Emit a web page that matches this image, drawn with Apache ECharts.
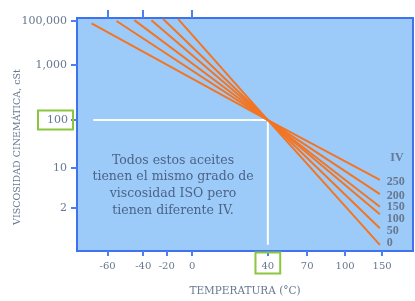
<!DOCTYPE html>
<html>
<head>
<meta charset="utf-8">
<script src="https://cdn.jsdelivr.net/npm/echarts@6/dist/echarts.min.js"></script>
<style>
html,body{margin:0;padding:0;background:#fff;}
#c{width:415px;height:301px;}
</style>
</head>
<body>
<div id="c"></div>
<script>
// ---- data ----
const xTickTemps = [-60, -40, -20, 0, 40, 70, 100, 150];
const xTickLabels = ['-60', '-40', '-20', '0', '40', '70', '100', '150'];
const xTopTickTemps = [-60, -40, 0];
const yTickVals = [2, 10, 100, 1000, 100000];
const yTickLabels = ['2', '10', '100', '1,000', '100,000'];
const ivLabels = ['250', '200', '150', '100', '50', '0'];
const startTemp = [-69, -55, -45, -33, -23, -11];
const startVisc = [76000, 98000, 107000, 107000, 120000, 120000];
const refTemp = 40;
const refVisc = 100;
const endTemp = [147, 147, 147, 147, 147, 147];
const endVisc = [6.2, 3.5, 2.1, 1.55, 0.88, 0.45];
const guideStartTemp = -68;
const guideEndVisc = 0.45;
const noteLines = ['Todos estos aceites', 'tienen el mismo grado de', 'viscosidad ISO pero', 'tienen diferente IV.'];

// ---- layout of the hand-drawn (non-uniform) axes, in percent of plot ----
const xTickPos = [9.1, 19.7, 26.7, 34.3, 56.8, 68.5, 79.8, 90.8];
const yTickPos = [18.5, 35.6, 56.2, 79.8, 98.8];
const labelOffsets = [2, 1.5, 0, 5, 3, -2];

function interp(v, xs, ys) {
  let i = 0;
  if (v >= xs[xs.length - 1]) i = xs.length - 2;
  else if (v > xs[0]) { while (v > xs[i + 1]) i++; }
  return ys[i] + (v - xs[i]) * (ys[i + 1] - ys[i]) / (xs[i + 1] - xs[i]);
}
const yLogs = yTickVals.map(v => Math.log10(v));
const sx = t => interp(t, xTickTemps, xTickPos);
const sy = v => interp(Math.log10(v), yLogs, yTickPos);
function nearestIdx(arr, v) {
  let b = 0;
  arr.forEach((a, i) => { if (Math.abs(a - v) < Math.abs(arr[b] - v)) b = i; });
  return b;
}

const labelColor = '#677891';
const serif = 'DejaVu Serif';
const boxGreen = '#8cc63f';

const series = [];
// white guide lines
series.push({
  type: 'line', xAxisIndex: 0, symbol: 'none', silent: true, z: 2,
  lineStyle: { color: '#ffffff', width: 2 },
  data: [[sx(guideStartTemp), sy(refVisc)], [sx(refTemp), sy(refVisc)], [sx(refTemp), sy(guideEndVisc)]]
});
ivLabels.forEach((iv, i) => {
  series.push({
    type: 'line', xAxisIndex: 0, symbol: 'none', silent: true, z: 3,
    lineStyle: { color: '#f27524', width: 2 },
    data: [[sx(startTemp[i]), sy(startVisc[i])], [sx(refTemp), sy(refVisc)], [sx(endTemp[i]), sy(endVisc[i])]],
    endLabel: {
      show: true, formatter: iv, distance: 7, offset: [0, labelOffsets[i]],
      color: labelColor, fontFamily: 'Liberation Serif', fontWeight: 'bold', fontSize: 12
    }
  });
});

const chart = echarts.init(document.getElementById('c'), null, { renderer: 'canvas' });
chart.setOption({
  animation: false,
  grid: {
    left: 77, right: 2, top: 18, bottom: 50, outerBoundsMode: 'none', containLabel: false,
    show: true, backgroundColor: '#9dcbf9', borderColor: '#3f72ee', borderWidth: 2
  },
  xAxis: [{
    type: 'value', min: 0, max: 100, position: 'bottom',
    splitLine: { show: false },
    axisLine: { show: false },
    axisTick: { show: true, customValues: xTickTemps.map(sx), length: 5, lineStyle: { color: '#4c7ff0', width: 2 } },
    axisLabel: {
      customValues: xTickTemps.map(sx), margin: 6,
      formatter: v => {
        const i = nearestIdx(xTickPos, v);
        return xTickTemps[i] === refTemp ? '{box|' + xTickLabels[i] + '}' : '{n|' + xTickLabels[i] + '}';
      },
      rich: {
        n: { fontFamily: serif, fontSize: 10, color: labelColor, padding: [9, 6, 2, 6], lineHeight: 12 },
        box: { fontFamily: serif, fontSize: 10, color: labelColor, padding: [9, 6, 2, 6], lineHeight: 12, borderColor: boxGreen, borderWidth: 2 }
      }
    },
    name: 'TEMPERATURA (°C)', nameLocation: 'middle', nameGap: 35,
    nameTextStyle: { fontFamily: serif, fontSize: 10.5, color: labelColor }
  }, {
    type: 'value', min: 0, max: 100, position: 'top',
    splitLine: { show: false }, axisLine: { show: false }, axisLabel: { show: false },
    axisTick: { show: true, customValues: xTopTickTemps.map(sx), length: 8, lineStyle: { color: '#4c7ff0', width: 2 } }
  }],
  yAxis: {
    type: 'value', min: 0, max: 100,
    splitLine: { show: false },
    axisLine: { show: false },
    axisTick: { show: true, customValues: yTickVals.map(sy), length: 6, lineStyle: { color: '#4c7ff0', width: 2 } },
    axisLabel: {
      customValues: yTickVals.map(sy), margin: 4,
      formatter: v => {
        const i = nearestIdx(yTickPos, v);
        return yTickVals[i] === refVisc ? '{box|' + yTickLabels[i] + '}' : '{n|' + yTickLabels[i] + '}';
      },
      rich: {
        n: { fontFamily: serif, fontSize: 11, color: labelColor, padding: [4, 6, 4, 9], lineHeight: 13 },
        box: { fontFamily: serif, fontSize: 11, color: labelColor, padding: [4, 5, 4, 9], lineHeight: 13, borderColor: boxGreen, borderWidth: 2 }
      }
    }
  },
  graphic: [{
    type: 'text', x: 173, y: 152, silent: true,
    style: {
      text: noteLines.join('\n'), textAlign: 'center', textVerticalAlign: 'top',
      fontFamily: serif, fontSize: 12.5, lineHeight: 16.7, fill: '#4b6486'
    }
  }, {
    type: 'text', x: 397, y: 158, silent: true,
    style: { text: 'IV', textAlign: 'center', textVerticalAlign: 'middle', fontFamily: 'Liberation Serif', fontWeight: 'bold', fontSize: 12, fill: labelColor }
  }, {
    type: 'text', x: 18, y: 147, rotation: Math.PI / 2, silent: true,
    style: { text: 'VISCOSIDAD CINEMÁTICA, cSt', textAlign: 'center', textVerticalAlign: 'middle', fontFamily: serif, fontSize: 9.5, fill: labelColor }
  }],
  series: series
});
</script>
</body>
</html>
